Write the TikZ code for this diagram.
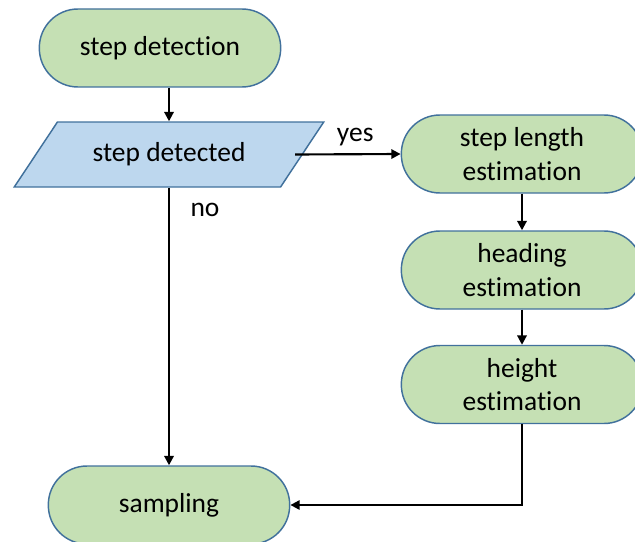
\documentclass[tikz,border=0pt]{standalone}
\usepackage{fontspec}
\setmainfont{Carlito}[Ligatures=NoCommon, Contextuals=NoAlternate]
\usepackage{tikz}
\usetikzlibrary{shapes.geometric, arrows.meta, positioning}
\definecolor{boxgreen}{RGB}{197,224,180}
\definecolor{boxblue}{RGB}{189,215,238}
\definecolor{boxedge}{RGB}{65,113,156}
\tikzset{
  procbox/.style={rectangle, draw=boxedge, fill=boxgreen,
    minimum width=181pt, minimum height=58.5pt, rounded corners=29pt,
    align=center, font=\fontsize{20.6}{25}\selectfont, line width=1.1pt},
  iobox/.style={trapezium, trapezium left angle=46, trapezium right angle=134,
    trapezium stretches=true, draw=boxedge, fill=boxblue,
    minimum width=232.5pt, minimum height=48.75pt,
    font=\fontsize{20.6}{25}\selectfont, line width=1.1pt},
  arrow/.style={-{Triangle[width=7pt, length=7pt]}, line width=1.6pt, color=black},
  lbl/.style={font=\fontsize{20.6}{25}\selectfont}
}
\begin{document}
\begin{tikzpicture}[x=0.75pt, y=-0.75pt]
  \useasboundingbox (0,0) rectangle (635,542);
  \clip (0,0) rectangle (635,542);

  % left column
  \node[procbox] (detect) at (160,48) {step detection};
  \node[iobox] (decide) at (169,154.5) {step detected};
  \node[procbox] (sampling) at (169,505) {sampling};

  % right column
  \node[procbox] (steplen) at (522,154) {step length\\estimation};
  \node[procbox] (heading) at (522,270) {heading\\estimation};
  \node[procbox] (height) at (522,384.5) {height\\estimation};

  % connectors
  \draw[arrow] (detect.south -| decide.north) -- (decide.north);
  \draw[arrow] ([xshift=-6pt]decide.east) -- (steplen.west)
    node[lbl, pos=0.57, above=2pt] (yes) {yes};
  \draw[arrow] (decide.south) -- (decide.south |- sampling.north)
    node[lbl, pos=0.08, right=12pt] (no) {no};
  \draw[arrow] (steplen) -- (heading);
  \draw[arrow] (heading) -- (height);
  \draw[arrow] (height.south) |- (sampling.east);
\end{tikzpicture}
\end{document}
